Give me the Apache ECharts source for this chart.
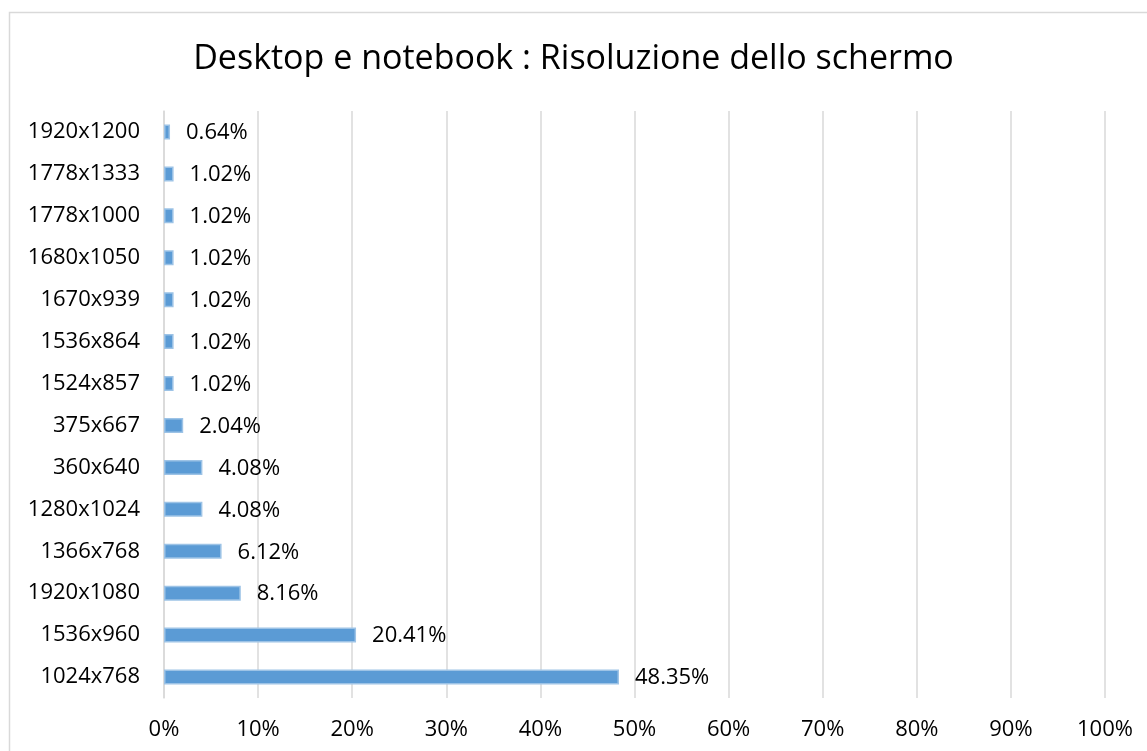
<!DOCTYPE html>
<html><head><meta charset="utf-8">
<script src="https://cdn.jsdelivr.net/npm/echarts@6/dist/echarts.min.js"></script>
<style>html,body{margin:0;padding:0;background:#fff}#c{width:1147px;height:751px}</style>
</head><body><div id="c"></div>
<script>
const titleText = 'Desktop e notebook : Risoluzione dello schermo';
const categories = ['1024x768','1536x960','1920x1080','1366x768','1280x1024','360x640','375x667','1524x857','1536x864','1670x939','1680x1050','1778x1000','1778x1333','1920x1200'];
const values = [48.35,20.41,8.16,6.12,4.08,4.08,2.04,1.02,1.02,1.02,1.02,1.02,1.02,0.64];
const FONT = '"Open Sans", sans-serif';
const chart = echarts.init(document.getElementById('c'));
chart.setOption({
  animation:false,
  backgroundColor:'#fff',
  graphic:[{type:'rect',shape:{x:9.5,y:12.5,width:1300,height:900},style:{fill:'none',stroke:'#d9d9d9',lineWidth:1.5},silent:true}],
  title:{text:titleText,left:'center',top:37,textStyle:{fontFamily:FONT,fontSize:34,fontWeight:'normal',color:'#000'}},
  grid:{left:164,right:42,top:111,bottom:53,containLabel:false},
  xAxis:{type:'value',min:0,max:100,interval:10,
    axisLabel:{formatter:'{value}%',fontFamily:FONT,fontSize:22,color:'#000',margin:21},
    splitLine:{lineStyle:{color:'#d9d9d9',width:1.5}},axisLine:{show:false},axisTick:{show:false}},
  yAxis:{type:'category',data:categories,
    axisLabel:{fontFamily:FONT,fontSize:22,color:'#000',margin:24},
    axisLine:{show:true,lineStyle:{color:'#d9d9d9',width:1.5}},axisTick:{show:false}},
  series:[{type:'bar',data:values,barWidth:15,
    itemStyle:{color:'#5b9bd5',borderColor:'#9dc3e6',borderWidth:1.5},
    label:{show:true,position:'right',distance:16,offset:[0,1],formatter:p=>p.value.toFixed(2)+'%',fontFamily:FONT,fontSize:22,color:'#000'}}]
});
</script></body></html>
